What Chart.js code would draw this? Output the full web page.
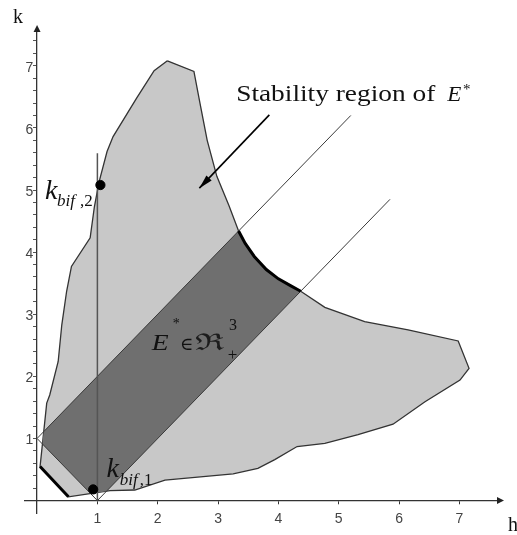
<!DOCTYPE html>
<html>
<head>
<meta charset="utf-8">
<script src="https://cdn.jsdelivr.net/npm/chart.js@4.4.1/dist/chart.umd.min.js"></script>
<style>
  html, body { margin: 0; padding: 0; background: #ffffff; }
  canvas { display: block; }
</style>
</head>
<body>
<canvas id="chart" width="517" height="535"></canvas>
<script>
// Boundary of the stability region in the (h, k) plane, traced clockwise from the peak.
const regionH = [2.16, 2.60, 2.70, 2.82, 2.98, 3.18, 3.34, 3.45, 3.60, 3.80, 4.00, 4.20, 4.37,
                 4.77, 5.43, 6.15, 6.98, 7.16, 7.01, 6.43, 5.90, 5.32, 4.77, 4.31, 3.94, 3.66,
                 3.25, 2.12, 1.62, 1.21, 0.52, 0.05, 0.16, 0.21, 0.35, 0.41, 0.49, 0.57, 0.88,
                 0.95, 1.03, 1.16, 1.26, 1.65, 1.94];
const regionK = [7.08, 6.91, 6.40, 5.80, 5.22, 4.75, 4.34, 4.14, 3.93, 3.72, 3.57, 3.46, 3.37,
                 3.11, 2.88, 2.75, 2.57, 2.13, 1.94, 1.59, 1.23, 1.06, 0.92, 0.87, 0.66, 0.52,
                 0.43, 0.33, 0.17, 0.16, 0.06, 0.55, 1.57, 1.70, 2.24, 2.83, 3.37, 3.77, 4.23,
                 4.73, 5.14, 5.62, 5.86, 6.48, 6.92];

// Boundary stretches drawn heavy: the ridge inside the band and the lower-left edge.
const ridgeRange = [6, 12];
const cornerRange = [30, 31];

// Lines bounding the band where E* lies in the positive octant.
const bandUpperH = [0, 5.2],  bandUpperK = [1, 6.2];
const bandLowerH = [1, 5.85], bandLowerK = [0, 4.85];
const bandBaseH  = [0, 1],    bandBaseK  = [1, 0];

// Bifurcation points k_bif,1 and k_bif,2 and the vertical section h = 1.
const bifH = [0.93, 1.05];
const bifK = [0.18, 5.08];
const sectionH = [1, 1];
const sectionK = [0, 5.59];

// Pointer from the caption into the region.
const pointerH = [3.85, 2.69];
const pointerK = [6.21, 5.03];

// Axis tick labels.
const xTickLabels = [1, 2, 3, 4, 5, 6, 7];
const yTickLabels = [1, 2, 3, 4, 5, 6, 7];

const pts = (hs, ks) => hs.map((h, i) => ({ x: h, y: ks[i] }));

// Clip a polygon to the half-plane on the same side of line AB as point `inside`.
function clipHalfPlane(poly, a, b, inside) {
  const side = p => (b.x - a.x) * (p.y - a.y) - (b.y - a.y) * (p.x - a.x);
  const sgn = Math.sign(side(inside));
  const f = p => sgn * side(p);
  const out = [];
  for (let i = 0; i < poly.length; i++) {
    const p = poly[i], q = poly[(i + 1) % poly.length];
    const fp = f(p), fq = f(q);
    if (fp >= 0) out.push(p);
    if ((fp >= 0) !== (fq >= 0)) {
      const t = fp / (fp - fq);
      out.push({ x: p.x + t * (q.x - p.x), y: p.y + t * (q.y - p.y) });
    }
  }
  return out;
}

const region = pts(regionH, regionK);
const bandUpper = pts(bandUpperH, bandUpperK);
const bandLower = pts(bandLowerH, bandLowerK);
const bandBase = pts(bandBaseH, bandBaseK);
const inner = { x: 2, y: 2 };
let band = clipHalfPlane(region, bandUpper[0], bandUpper[1], inner);
band = clipHalfPlane(band, bandLower[0], bandLower[1], inner);
band = clipHalfPlane(band, bandBase[0], bandBase[1], inner);

const closed = p => p.concat([p[0]]);
const ridge = region.slice(ridgeRange[0], ridgeRange[1] + 1);
const corner = region.slice(cornerRange[0], cornerRange[1] + 1);

const line = (data, color, width, order) => ({
  data, showLine: true, fill: false, borderColor: color, borderWidth: width,
  pointRadius: 0, tension: 0, order
});

const serif = '"Liberation Serif", "Times New Roman", serif';
const mathSerif = '"DejaVu Serif", "Liberation Serif", serif';

const annotate = {
  id: 'annotate',
  afterDatasetsDraw(chart) {
    const { ctx, scales: { x, y } } = chart;
    const px = h => x.getPixelForValue(h);
    const py = k => y.getPixelForValue(k);
    // Text run anchored at its left baseline, optionally widened.
    const text = (s, h, k, font, sx = 1, color = '#111') => {
      ctx.save();
      ctx.font = font;
      ctx.fillStyle = color;
      ctx.textAlign = 'left';
      ctx.textBaseline = 'alphabetic';
      ctx.translate(px(h), py(k));
      ctx.scale(sx, 1);
      ctx.fillText(s, 0, 0);
      ctx.restore();
    };
    ctx.save();

    // Pointer head
    const x0 = px(pointerH[0]), y0 = py(pointerK[0]);
    const x1 = px(pointerH[1]), y1 = py(pointerK[1]);
    const ang = Math.atan2(y1 - y0, x1 - x0);
    const len = 14, half = 3.6;
    ctx.fillStyle = '#000';
    ctx.beginPath();
    ctx.moveTo(x1, y1);
    ctx.lineTo(x1 - len * Math.cos(ang) + half * Math.sin(ang), y1 - len * Math.sin(ang) - half * Math.cos(ang));
    ctx.lineTo(x1 - len * Math.cos(ang) - half * Math.sin(ang), y1 - len * Math.sin(ang) + half * Math.cos(ang));
    ctx.closePath();
    ctx.fill();

    // Caption
    text('Stability region of', 3.30, 6.43, '24px ' + serif, 1.14);
    text('E', 6.80, 6.43, 'italic 22px ' + serif, 1.05);
    text('*', 7.06, 6.55, '15px ' + serif);

    // Band label E* ∈ ℜ³₊
    text('E', 1.90, 2.43, 'italic 23px ' + serif, 1.2);
    text('*', 2.25, 2.78, '14px ' + serif);
    text('\u2208', 2.37, 2.42, '18px ' + mathSerif);
    text('\u211C', 2.61, 2.42, '23px ' + mathSerif, 1.5, '#1c1c1c');
    text('3', 3.18, 2.74, '16px ' + serif);
    text('+', 3.16, 2.27, '17px ' + serif);

    // Bifurcation labels
    text('k', 0.13, 4.86, 'italic 28px ' + serif);
    text('bif', 0.33, 4.75, 'italic 17px ' + serif);
    text(',2', 0.71, 4.75, '17px ' + serif);
    text('k', 1.15, 0.38, 'italic 28px ' + serif);
    text('bif', 1.37, 0.25, 'italic 17px ' + serif);
    text(',1', 1.70, 0.25, '17px ' + serif);

    ctx.restore();
  },
  afterDraw(chart) {
    const { ctx, chartArea: a, scales: { x, y } } = chart;
    const ox = x.getPixelForValue(0), oy = y.getPixelForValue(0);
    ctx.save();
    ctx.fillStyle = '#222';
    // Axis arrowheads
    ctx.beginPath();
    ctx.moveTo(ox, a.top - 6);
    ctx.lineTo(ox - 3.5, a.top + 1);
    ctx.lineTo(ox + 3.5, a.top + 1);
    ctx.closePath();
    ctx.fill();
    ctx.beginPath();
    ctx.moveTo(a.right + 6, oy);
    ctx.lineTo(a.right - 1, oy - 3.5);
    ctx.lineTo(a.right - 1, oy + 3.5);
    ctx.closePath();
    ctx.fill();
    // Axis names
    ctx.fillStyle = '#111';
    ctx.font = '20px ' + serif;
    ctx.textBaseline = 'alphabetic';
    ctx.fillText('k', ox - 24, a.top - 8);
    ctx.fillText('h', a.right + 10, oy + 30);
    ctx.restore();
  }
};

new Chart(document.getElementById('chart'), {
  type: 'scatter',
  data: {
    datasets: [
      {
        data: closed(region), showLine: true, fill: 'shape',
        backgroundColor: '#c8c8c8', borderColor: '#333', borderWidth: 1.3,
        pointRadius: 0, tension: 0, order: 9
      },
      {
        data: closed(band), showLine: true, fill: 'shape',
        backgroundColor: '#6f6f6f', borderColor: 'rgba(0,0,0,0)', borderWidth: 0,
        pointRadius: 0, tension: 0, order: 8
      },
      line(bandUpper, '#3a3a3a', 1, 7),
      line(bandLower, '#3a3a3a', 1, 7),
      line(bandBase, '#3a3a3a', 1, 7),
      line(ridge, '#000', 3, 6),
      line(corner, '#000', 3, 6),
      line(pts(sectionH, sectionK), '#555', 1.5, 5),
      line(pts(pointerH, pointerK), '#000', 1.6, 4),
      {
        data: pts(bifH, bifK), showLine: false, pointRadius: 4.6,
        pointBackgroundColor: '#000', pointBorderColor: '#000', order: 3
      }
    ]
  },
  options: {
    responsive: false,
    animation: false,
    events: [],
    layout: { padding: { left: 25, right: 19, top: 31, bottom: 22 } },
    plugins: { legend: { display: false }, tooltip: { enabled: false } },
    scales: {
      x: {
        type: 'linear', min: -0.2, max: 7.64, position: { y: 0 },
        border: { color: '#333', width: 1.3 },
        grid: { drawOnChartArea: false, drawTicks: true, tickLength: 3, color: '#333' },
        afterBuildTicks: axis => { axis.ticks = xTickLabels.map(v => ({ value: v })); },
        ticks: {
          autoSkip: false, maxRotation: 0, padding: 7, color: '#444',
          font: { family: '"Liberation Sans", sans-serif', size: 14 },
          callback: v => String(v)
        }
      },
      y: {
        type: 'linear', min: -0.2, max: 7.56, position: { x: 0 },
        border: { color: '#333', width: 1.3 },
        grid: { drawOnChartArea: false, drawTicks: true, tickLength: 3, color: '#555' },
        afterBuildTicks: axis => {
          const t = [];
          for (let i = 1; i <= 37; i++) t.push({ value: i / 5 });
          axis.ticks = t;
        },
        ticks: {
          autoSkip: false, labelOffset: 2, color: '#444',
          font: { family: '"Liberation Sans", sans-serif', size: 14 },
          // a trailing space keeps the right-aligned label clear of the axis line
          callback: v => (yTickLabels.includes(v) ? String(v) + ' ' : '')
        }
      }
    }
  },
  plugins: [annotate]
});
</script>
</body>
</html>
